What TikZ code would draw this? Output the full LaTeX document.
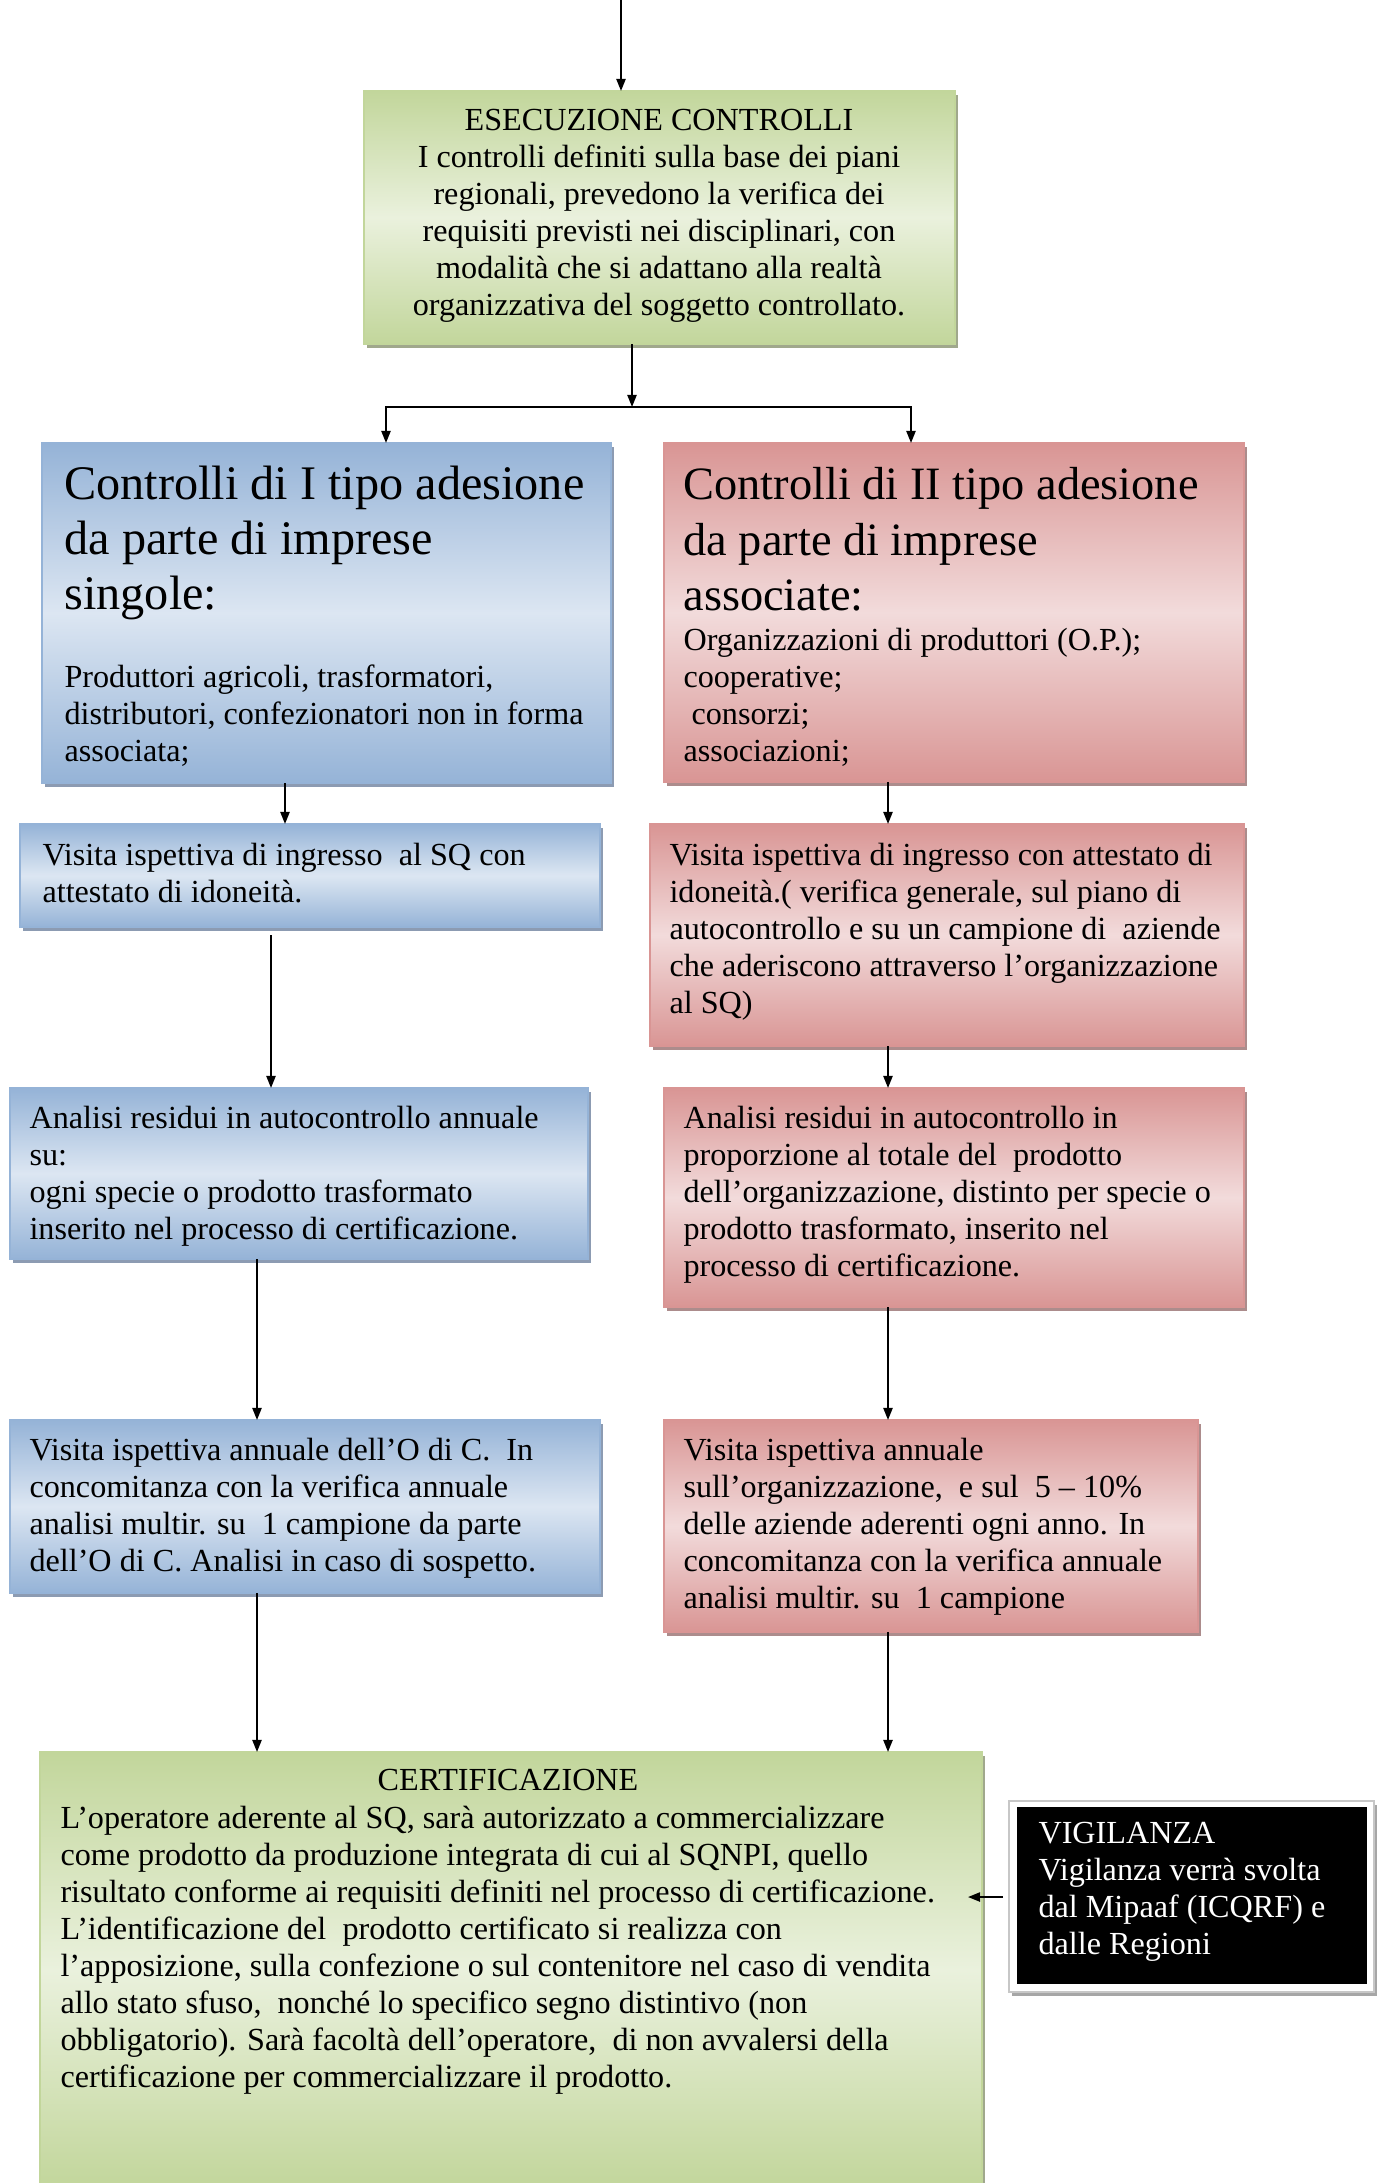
\documentclass[tikz,border=0pt]{standalone}
\usepackage{fontspec}
\setmainfont{Liberation Serif}
\usetikzlibrary{arrows.meta,shadows,fit,calc}
\definecolor{bluedark}{HTML}{95B3D7}
\definecolor{bluelight}{HTML}{DCE6F2}
\definecolor{reddark}{HTML}{D99594}
\definecolor{redlight}{HTML}{F2DBDB}
\definecolor{greendark}{HTML}{C2D69B}
\definecolor{greenlight}{HTML}{EAF1DD}
\definecolor{blueshadow}{RGB}{140,155,178}
\definecolor{redshadow}{RGB}{172,140,140}
\definecolor{greenshadow}{RGB}{160,168,140}
\tikzset{
  boxbase/.style={inner sep=0pt, outer sep=0pt, line width=0.7pt, shading angle=-45},
  bluebox/.style={boxbase, draw=bluedark, top color=bluedark, bottom color=bluedark, middle color=bluelight,
    drop shadow={shadow xshift=1.3pt, shadow yshift=-1.5pt, fill=blueshadow, opacity=1}},
  redbox/.style={boxbase, draw=reddark, top color=reddark, bottom color=reddark, middle color=redlight,
    drop shadow={shadow xshift=1.3pt, shadow yshift=-1.5pt, fill=redshadow, opacity=1}},
  greenbox/.style={boxbase, draw=greendark, top color=greendark, bottom color=greendark, middle color=greenlight,
    drop shadow={shadow xshift=1.3pt, shadow yshift=-1.5pt, fill=greenshadow, opacity=1}},
  txt/.style={anchor=north west, inner sep=0pt, align=left, font=\fontsize{12}{13.8}\selectfont},
  bigtxt/.style={anchor=north west, inner sep=0pt, align=left, font=\fontsize{18}{20.7}\selectfont},
  bigtxtr/.style={anchor=north west, inner sep=0pt, align=left, font=\fontsize{17.3}{20.7}\selectfont},
  arr/.style={line width=0.75pt, -{Triangle[length=4.5pt,width=3.4pt]}},
  plain/.style={line width=0.75pt}
}
\begin{document}
\begin{tikzpicture}[x=0.3731pt,y=-0.3731pt]
\useasboundingbox (0,0) rectangle (1382,2183);
\clip (0,0) rectangle (1382,2183);

% boxes
\node[greenbox, fit={(364,91) (955,344)}] (esec) {};
\node[bluebox, fit={(42,443) (611,783)}] (b1) {};
\node[redbox, fit={(664,443) (1244,782)}] (r1) {};
\node[bluebox, fit={(20,824) (600,927)}] (b2) {};
\node[redbox, fit={(650,824) (1244,1046)}] (r2) {};
\node[bluebox, fit={(10,1088) (588,1259)}] (b3) {};
\node[redbox, fit={(664,1088) (1244,1307)}] (r3) {};
\node[bluebox, fit={(10,1420) (600,1593)}] (b4) {};
\node[redbox, fit={(664,1420) (1198,1632)}] (r4) {};
\node[greenbox, fit={(40,1752) (982,2188)}] (cert) {};
\node[fit={(1009,1801) (1374,1992)}, inner sep=0pt, outer sep=0pt, fill=white, draw=black!22, line width=0.5pt,
  drop shadow={shadow xshift=1.3pt, shadow yshift=-1.5pt, fill=black!35, opacity=1}] (vig) {};
\node[fit={(1017,1807) (1367,1984)}, inner sep=0pt, outer sep=0pt, fill=black] (vigin) {};

% texts
\node[txt, anchor=north, align=center] (esect) at (659,109) {ESECUZIONE CONTROLLI\\I controlli definiti sulla base dei piani\\regionali, prevedono la verifica dei\\requisiti previsti nei disciplinari, con\\modalità che si adattano alla realtà\\organizzativa del soggetto controllato.};

\node[bigtxt] (b1h) at (64,465) {Controlli di I tipo adesione\\da parte di imprese\\singole:};
\node[txt] (b1t) at (64,664) {Produttori agricoli, trasformatori,\\distributori, confezionatori non in forma\\associata;};

\node[bigtxtr] (r1h) at (683,467) {Controlli di II tipo adesione\\da parte di imprese\\associate:};
\node[txt] (r1t) at (683,628) {Organizzazioni di produttori (O.P.);\\cooperative;\\\ consorzi;\\associazioni;};

\node[txt] (b2t) at (42,843) {Visita ispettiva di ingresso\ \ al SQ con\\attestato di idoneità.};
\node[txt] (r2t) at (669,843) {Visita ispettiva di ingresso con attestato di\\idoneità.( verifica generale, sul piano di\\autocontrollo e su un campione di\ \ aziende\\che aderiscono attraverso l’organizzazione\\al SQ)};

\node[txt] (b3t) at (29,1106) {Analisi residui in autocontrollo annuale\\su:\\ogni specie o prodotto trasformato\\inserito nel processo di certificazione.};
\node[txt] (r3t) at (683,1106) {Analisi residui in autocontrollo in\\proporzione al totale del\ \ prodotto\\dell’organizzazione, distinto per specie o\\prodotto trasformato, inserito nel\\processo di certificazione.};

\node[txt] (b4t) at (29,1438) {Visita ispettiva annuale dell’O di C.\ \ In\\concomitanza con la verifica annuale\\analisi multir. su\ \ 1 campione da parte\\dell’O di C. Analisi in caso di sospetto.};
\node[txt] (r4t) at (683,1438) {Visita ispettiva annuale\\sull’organizzazione,\ \ e sul\ \ 5 – 10\%\\delle aziende aderenti ogni anno. In\\concomitanza con la verifica annuale\\analisi multir. su\ \ 1 campione};

\node[txt, anchor=north] (certh) at (508,1769) {CERTIFICAZIONE};
\node[txt] (certt) at (60,1806) {L’operatore aderente al SQ, sarà autorizzato a commercializzare\\come prodotto da produzione integrata di cui al SQNPI, quello\\risultato conforme ai requisiti definiti nel processo di certificazione.\\L’identificazione del\ \ prodotto certificato si realizza con\\l’apposizione, sulla confezione o sul contenitore nel caso di vendita\\allo stato sfuso,\ \ nonché lo specifico segno distintivo (non\\obbligatorio). Sarà facoltà dell’operatore,\ \ di non avvalersi della\\certificazione per commercializzare il prodotto.};

\node[txt, text=white] (vigt) at (1038,1822) {VIGILANZA\\Vigilanza verrà svolta\\dal Mipaaf (ICQRF) e\\dalle Regioni};

% connectors
\coordinate (top) at (621,0);
\coordinate (j) at (632,407);
\coordinate (jl) at (386,407);
\coordinate (jr) at (911,407);
\coordinate (xa) at (285,0);
\coordinate (xb) at (271,0);
\coordinate (xc) at (257,0);
\coordinate (xr) at (888,0);

\draw[arr] (top) -- (top |- esec.north);
\draw[arr] (esec.south -| j) -- (j);
\draw[arr] (j) -- (jl) -- (jl |- b1.north);
\draw[arr] (j) -- (jr) -- (jr |- r1.north);

\draw[arr] (b1.south -| xa) -- (b2.north -| xa);
\draw[arr] ($(b2.south -| xb)+(0,8)$) -- (b3.north -| xb);
\draw[arr] (b3.south -| xc) -- (b4.north -| xc);
\draw[arr] (b4.south -| xc) -- (cert.north -| xc);

\draw[arr] (r1.south -| xr) -- (r2.north -| xr);
\draw[arr] (r2.south -| xr) -- (r3.north -| xr);
\draw[arr] (r3.south -| xr) -- (r4.north -| xr);
\draw[arr] (r4.south -| xr) -- (cert.north -| xr);

\draw[arr] ($(vig.west |- 0,1897)+(-6,0)$) -- ($(cert.east |- 0,1897)+(-14,0)$);
\end{tikzpicture}
\end{document}
